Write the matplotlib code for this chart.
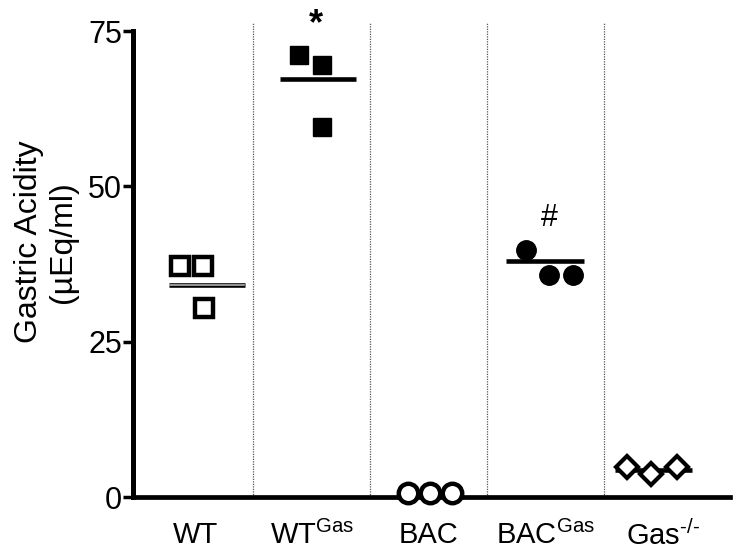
import matplotlib
matplotlib.use("Agg")
import matplotlib.pyplot as plt
import numpy as np

plt.rcParams["font.family"] = ["Liberation Sans", "DejaVu Sans"]
plt.rcParams["mathtext.fontset"] = "custom"
plt.rcParams["mathtext.rm"] = "Liberation Sans"
plt.rcParams["mathtext.it"] = "Liberation Sans:italic"

# --- dados ---
grupos = [r"WT", r"WT$^{\mathrm{Gas}}$", r"BAC", r"BAC$^{\mathrm{Gas}}$", r"Gas$^{\text{-/-}}$"]
wt = [37.2, 37.2, 30.4]
wt_gas = [71.1, 69.5, 59.5]
bac = [0.6, 0.6, 0.6]
bac_gas = [39.8, 35.7, 35.7]
gas_ko = [4.8, 3.7, 4.8]
medias = [34.1, 67.3, 0.0, 38.0, 4.3]
marcas = ["", "*", "", "#", ""]
marcas_y = [0, 76.0, 0, 44.9, 0]

# deslocamento horizontal dos pontos dentro de cada grupo (unidades de categoria)
desloc = [
    [-0.13, 0.07, 0.08],
    [-0.11, 0.09, 0.09],
    [-0.18, 0.01, 0.20],
    [-0.17, 0.03, 0.23],
    [-0.31, -0.10, 0.12],
]
linha_x = [(-0.22, 0.43), (-0.27, 0.38), (-0.3, 0.3), (-0.34, 0.33), (-0.41, 0.25)]

valores = [wt, wt_gas, bac, bac_gas, gas_ko]
estilos = [
    dict(marker="s", mfc="white", mec="black", ms=13, mew=3.2),
    dict(marker="s", mfc="black", mec="black", ms=13, mew=1),
    dict(marker="o", mfc="white", mec="black", ms=14, mew=3.2),
    dict(marker="o", mfc="black", mec="black", ms=14, mew=1),
    dict(marker="D", mfc="white", mec="black", ms=11.5, mew=3.0),
]

fig = plt.figure(figsize=(7.41, 5.58), dpi=100)
ax = fig.add_axes([0.1795, 0.1093, 0.8055, 0.8517])

for i, vals in enumerate(valores):
    x0, x1 = linha_x[i]
    if i == 0:
        ax.plot([i + x0, i + x1], [medias[i]] * 2, color="black", lw=3.3, solid_capstyle="butt", zorder=3)
        ax.plot([i + x0 + 0.01, i + x1 - 0.01], [medias[i]] * 2, color="#b0b0b0", lw=1.2, zorder=4)
    elif i != 2:
        ax.plot([i + x0, i + x1], [medias[i]] * 2, color="black", lw=3.3, solid_capstyle="butt", zorder=3)
    xs = [i + d for d in desloc[i]]
    ax.plot(xs, vals, linestyle="none", clip_on=False, zorder=5, **estilos[i])
    if marcas[i]:
        ax.text(i + 0.03, marcas_y[i], marcas[i], ha="center", va="center",
                fontsize=26 if i == 1 else 22,
                fontweight="bold" if i == 1 else "normal")

# separadores pontilhados
for s in np.arange(0.5, len(grupos) - 1, 1.0):
    ax.axvline(s, color="#555555", lw=0.9, ls=(0, (1, 1)), zorder=1)

ax.set_xlim(-0.53, 4.573)
ax.set_ylim(0, 76.5)
ax.set_yticks([0, 25, 50, 75])
ax.set_xticks(range(len(grupos)))
ax.set_xticklabels(grupos)

ax.spines["top"].set_visible(False)
ax.spines["right"].set_visible(False)
ax.spines["left"].set_bounds(0, 75)
ax.spines["left"].set_linewidth(3.6)
ax.spines["bottom"].set_linewidth(3.4)

ax.tick_params(axis="y", direction="out", length=7, width=2.5, labelsize=22, pad=1)
ax.tick_params(axis="x", length=0, labelsize=21, pad=17)

fig.text(46 / 741, 1 - 242 / 558, "Gastric Acidity\n(µEq/ml)", rotation=90,
         ha="center", va="center", fontsize=23, linespacing=1.15)

fig.savefig("out.png", dpi=100)
